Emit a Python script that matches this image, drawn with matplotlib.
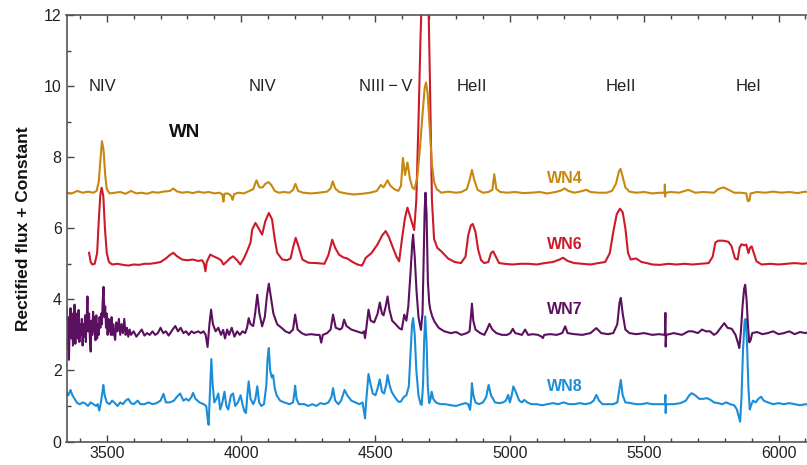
import matplotlib
matplotlib.use("Agg")
import matplotlib.pyplot as plt
from matplotlib.ticker import MultipleLocator

# ---------------- data ----------------
wn4_wl = [3350, 3370, 3390, 3410, 3430, 3450, 3462, 3470, 3476, 3482, 3488, 3494, 3500, 3510, 3530, 3550,
          3570, 3590, 3610, 3630, 3650, 3670, 3690, 3710, 3735, 3748, 3760, 3780, 3800, 3820, 3840, 3860,
          3880, 3900, 3920, 3930, 3934, 3938, 3950, 3962, 3968, 3974, 3990, 4010, 4030, 4045, 4057, 4068,
          4080, 4090, 4102, 4112, 4125, 4140, 4160, 4180, 4193, 4202, 4212, 4230, 4260, 4290, 4320, 4333,
          4341, 4350, 4365, 4390, 4420, 4450, 4480, 4505, 4520, 4530, 4545, 4555, 4570, 4585, 4595, 4602,
          4610, 4619, 4628, 4637, 4645, 4655, 4665, 4675, 4683, 4688, 4694, 4702, 4710, 4718, 4728, 4745,
          4770, 4800, 4820, 4840, 4850, 4859, 4868, 4880, 4900, 4920, 4935, 4942, 4950, 4965, 4990, 5020,
          5050, 5080, 5110, 5140, 5170, 5190, 5204, 5218, 5240, 5260, 5285, 5300, 5330, 5360, 5380, 5395,
          5406, 5412, 5420, 5430, 5445, 5470, 5500, 5530, 5560, 5576, 5577, 5578, 5579, 5600, 5630, 5664,
          5690, 5720, 5760, 5775, 5795, 5815, 5835, 5860, 5880, 5886, 5892, 5896, 5920, 5950, 5980, 6010,
          6040, 6070, 6100, 6115]
wn4_flux = [7.0, 6.98, 7.05, 7.0, 7.03, 7.0, 7.05, 7.3, 7.9, 8.45, 8.2, 7.5, 7.1, 6.98, 7.0, 7.02,
            6.97, 7.05, 6.98, 7.0, 6.97, 7.02, 7.0, 7.03, 7.05, 7.12, 7.04, 7.0, 7.02, 6.99, 7.03, 7.0,
            7.02, 6.98, 7.0, 6.95, 6.75, 6.97, 6.98, 6.92, 6.8, 6.96, 7.0, 6.98, 7.05, 7.1, 7.35, 7.15,
            7.15, 7.25, 7.3, 7.22, 7.05, 7.0, 7.02, 7.0, 7.08, 7.25, 7.05, 7.0, 6.98, 7.0, 7.03, 7.12,
            7.32, 7.12, 7.02, 6.98, 6.95, 6.97, 7.0, 7.05, 7.22, 7.15, 7.35, 7.2, 7.1, 7.05, 7.2, 7.98,
            7.5, 7.85, 7.4, 7.15, 7.1, 7.4, 8.2, 9.2, 9.95, 10.1, 9.8, 8.8, 7.8, 7.3, 7.1, 7.0,
            7.03, 7.0, 7.02, 7.1, 7.35, 7.64, 7.35, 7.08, 7.0, 7.02, 7.08, 7.52, 7.1, 7.02, 7.0, 7.02,
            6.99, 7.0, 7.02, 6.98, 7.02, 7.06, 7.12, 7.05, 7.0, 7.03, 7.08, 7.02, 7.0, 7.0, 7.05, 7.25,
            7.6, 7.67, 7.45, 7.15, 7.03, 7.0, 7.02, 6.98, 7.0, 7.0, 7.23, 6.89, 7.0, 7.02, 7.0, 7.08,
            7.0, 7.02, 7.0, 7.1, 7.15, 7.08, 7.0, 7.0, 6.98, 6.76, 6.78, 6.98, 7.02, 7.0, 7.03, 7.0,
            7.02, 6.99, 7.03, 7.0]

wn6_wl = [3434, 3440, 3446, 3455, 3464, 3470, 3476, 3481, 3487, 3493, 3500, 3508, 3520, 3540, 3560, 3580,
          3600, 3620, 3640, 3660, 3680, 3700, 3720, 3735, 3748, 3760, 3780, 3800, 3820, 3840, 3855, 3862,
          3867, 3872, 3885, 3900, 3915, 3925, 3934, 3945, 3958, 3970, 3985, 3997, 4010, 4022, 4035, 4041,
          4053, 4065, 4078, 4090, 4103, 4115, 4125, 4134, 4153, 4170, 4184, 4193, 4203, 4215, 4228, 4250,
          4280, 4310, 4325, 4339, 4350, 4364, 4380, 4395, 4415, 4433, 4450, 4464, 4485, 4507, 4525, 4538,
          4550, 4563, 4578, 4588, 4600, 4610, 4619, 4630, 4644, 4652, 4660, 4668, 4675, 4686, 4696, 4703,
          4710, 4718, 4730, 4745, 4770, 4795, 4818, 4835, 4845, 4855, 4862, 4872, 4882, 4893, 4905, 4920,
          4930, 4938, 4948, 4960, 4980, 5010, 5040, 5070, 5100, 5130, 5160, 5185, 5198, 5215, 5240, 5270,
          5300, 5330, 5355, 5372, 5385, 5398, 5410, 5420, 5430, 5440, 5450, 5470, 5490, 5510, 5530, 5560,
          5590, 5620, 5650, 5680, 5710, 5740, 5755, 5765, 5776, 5795, 5813, 5825, 5838, 5848, 5855, 5862,
          5872, 5880, 5888, 5894, 5900, 5908, 5918, 5937, 5970, 6000, 6030, 6060, 6090, 6115]
wn6_flux = [5.31, 5.05, 4.98, 5.0, 5.3, 6.2, 6.95, 7.14, 6.9, 6.0, 5.3, 5.05, 4.98, 5.0, 4.97, 4.95,
            4.98, 4.97, 5.0, 5.0, 5.02, 5.05, 5.15, 5.25, 5.31, 5.22, 5.12, 5.1, 5.12, 5.08, 5.1, 5.0,
            4.79, 5.05, 5.26, 5.2, 5.15, 5.1, 4.98, 5.05, 5.15, 5.21, 5.1, 4.98, 5.15, 5.35, 5.6, 5.96,
            6.15, 6.0, 5.82, 6.2, 6.43, 6.25, 5.7, 5.31, 5.12, 5.1, 5.15, 5.45, 5.73, 5.45, 5.12, 5.03,
            5.02, 5.0, 5.25, 5.68, 5.45, 5.26, 5.18, 5.15, 5.05, 4.98, 4.95, 5.17, 5.3, 5.54, 5.8, 5.92,
            5.75, 5.49, 5.2, 5.07, 5.78, 6.3, 6.58, 6.3, 5.95, 6.8, 9.0, 11.5, 13.0, 13.5, 12.8, 10.0,
            6.8, 5.7, 5.45, 5.35, 5.15, 5.05, 5.02, 5.2, 5.8, 6.08, 6.12, 5.9, 5.4, 5.1, 5.02, 5.05,
            5.3, 5.35, 5.2, 5.02, 5.0, 4.98, 5.0, 5.0, 4.98, 5.02, 5.05, 5.12, 5.17, 5.08, 5.02, 5.0,
            4.98, 5.02, 5.05, 5.3, 5.9, 6.4, 6.55, 6.45, 6.0, 5.3, 5.12, 5.15, 5.05, 5.02, 4.98, 4.97,
            5.0, 4.98, 5.0, 4.98, 5.0, 5.02, 5.2, 5.6, 5.65, 5.65, 5.62, 5.5, 5.15, 5.12, 5.45, 5.55,
            5.52, 5.54, 5.3, 5.45, 5.49, 5.3, 5.07, 4.98, 5.0, 4.98, 5.0, 5.02, 5.0, 5.02]

wn7_wl = [3350, 3353, 3356, 3359, 3362, 3365, 3368, 3371, 3374, 3377, 3380, 3383, 3386, 3389, 3392, 3395,
          3398, 3401, 3404, 3407, 3410, 3413, 3416, 3419, 3422, 3425, 3428, 3431, 3434, 3437, 3440, 3443,
          3446, 3449, 3452, 3455, 3458, 3461, 3464, 3467, 3470, 3473, 3476, 3479, 3482, 3485, 3488, 3491,
          3494, 3497, 3500, 3503, 3506, 3509, 3512, 3515, 3518, 3521, 3524, 3527, 3531,
          3535, 3540, 3545, 3550, 3555, 3560, 3565, 3570, 3575, 3580, 3585, 3590, 3600, 3610, 3620, 3630,
          3640, 3650, 3660, 3670, 3680, 3690, 3700, 3710, 3720, 3730, 3745, 3755, 3765, 3775, 3785, 3795,
          3805, 3815, 3825, 3840, 3850, 3860, 3868, 3875, 3882, 3888, 3895, 3905, 3915, 3925, 3933, 3940,
          3948, 3955, 3965, 3975, 3985, 3995, 4005, 4015, 4022, 4028, 4035, 4045, 4052, 4060, 4068, 4078,
          4088, 4096, 4103, 4110, 4120, 4134, 4150, 4165, 4180, 4193, 4201, 4210, 4225, 4240, 4260, 4280,
          4292, 4298, 4304, 4320, 4333, 4342, 4352, 4368, 4376, 4383, 4392, 4410, 4430, 4450, 4457, 4461,
          4466, 4474, 4482, 4495, 4508, 4516, 4524, 4530, 4538, 4545, 4552, 4562, 4575, 4588, 4598, 4607,
          4615, 4622, 4630, 4637, 4640, 4646, 4653, 4660, 4669, 4675, 4679, 4683, 4686, 4690, 4695, 4700,
          4704, 4712, 4719, 4735, 4756, 4780, 4800, 4820, 4840, 4850, 4855, 4859, 4864, 4872, 4890, 4905,
          4915, 4924, 4935, 4950, 4970, 4990, 5002, 5011, 5020, 5035, 5045, 5057, 5068, 5085, 5105, 5118,
          5123, 5128, 5150, 5175, 5195, 5206, 5215, 5240, 5270, 5300, 5322, 5340, 5365, 5385, 5400, 5408,
          5413, 5420, 5430, 5445, 5470, 5500, 5530, 5555, 5577, 5579, 5580, 5582, 5610, 5640, 5665, 5680,
          5700, 5715, 5730, 5745, 5760, 5770, 5780, 5790, 5798, 5810, 5826, 5840, 5850, 5854, 5860, 5866,
          5872, 5876, 5881, 5886, 5891, 5896, 5902, 5920, 5940, 5960, 5980, 6000, 6020, 6040, 6060, 6080,
          6100, 6115]
wn7_flux = [3.8, 2.6, 3.5, 2.3, 3.3, 3.75, 2.9, 3.6, 2.7, 3.1, 3.85, 2.75, 3.4, 3.6, 2.9, 3.7,
            2.8, 3.3, 3.0, 3.45, 2.7, 3.3, 2.95, 3.55, 2.8, 3.4, 4.08, 3.1, 3.6, 2.9, 2.53, 3.4,
            3.0, 3.65, 3.1, 3.5, 2.85, 3.55, 2.9, 3.3, 3.0, 3.5, 3.2, 3.6, 3.3, 4.0, 4.35, 3.5,
            3.8, 3.2, 3.6, 3.0, 3.45, 3.1, 3.4, 3.0, 3.5, 3.0, 3.3, 3.05, 2.86,
            3.35, 3.1, 3.45, 3.0, 3.3, 3.05, 3.45, 3.0, 3.2, 2.95, 3.15, 3.0, 3.1, 2.95, 3.05, 3.15,
            2.98, 3.05, 3.0, 3.1, 3.0, 3.05, 3.2, 3.05, 3.1, 2.98, 3.15, 3.25, 3.1, 3.2, 3.05, 3.1,
            3.0, 3.1, 3.05, 3.1, 3.05, 3.1, 3.0, 2.66, 3.3, 3.71, 3.3, 3.1, 3.2, 3.0, 3.14, 2.9,
            3.15, 3.0, 3.2, 2.95, 3.1, 3.0, 3.1, 3.05, 3.2, 3.47, 3.3, 3.25, 3.6, 4.13, 3.6, 3.24,
            3.5, 4.1, 4.44, 4.1, 3.6, 3.3, 3.2, 3.1, 3.05, 3.15, 3.57, 3.15, 3.05, 3.0, 3.02, 3.0,
            3.0, 2.78, 3.0, 3.05, 3.15, 3.57, 3.2, 3.15, 3.2, 3.43, 3.25, 3.15, 3.1, 3.05, 3.1, 2.91,
            3.2, 3.71, 3.4, 3.35, 3.6, 3.91, 3.6, 3.55, 3.8, 4.08, 3.7, 3.4, 3.3, 3.19, 3.15, 3.57,
            3.4, 3.8, 4.7, 5.6, 5.82, 5.2, 4.2, 3.5, 3.14, 3.6, 5.0, 6.5, 7.0, 6.4, 4.5, 3.9,
            3.71, 3.5, 3.38, 3.2, 3.1, 3.05, 3.08, 3.0, 3.05, 3.1, 3.5, 3.88, 3.4, 3.15, 3.05, 3.0,
            3.15, 3.31, 3.15, 3.05, 3.0, 3.0, 3.05, 3.17, 3.05, 3.02, 3.0, 3.15, 3.0, 3.02, 3.0, 2.95,
            2.91, 3.0, 3.02, 3.0, 3.05, 3.24, 3.05, 3.02, 3.0, 3.05, 3.19, 3.05, 3.02, 3.05, 3.3, 3.9,
            4.04, 3.6, 3.15, 3.05, 3.02, 3.05, 3.0, 3.02, 3.0, 3.62, 2.67, 3.0, 3.05, 3.0, 3.1, 3.1,
            3.05, 3.15, 3.1, 3.1, 3.0, 3.05, 3.15, 3.25, 3.33, 3.2, 3.17, 3.0, 2.75, 2.63, 3.1, 3.8,
            4.3, 4.41, 4.0, 3.3, 2.79, 2.85, 3.05, 3.08, 3.02, 3.05, 3.1, 3.02, 3.05, 3.1, 3.02, 3.08,
            3.05, 3.08]

wn8_wl = [3350, 3357, 3365, 3372, 3380, 3390, 3400, 3410, 3420, 3430, 3440, 3450, 3460, 3466, 3472, 3478,
          3484, 3487, 3492, 3500, 3510, 3520, 3530, 3540, 3550, 3560, 3570, 3580, 3590, 3600, 3615, 3625,
          3640, 3655, 3670, 3685, 3700, 3711, 3720, 3735, 3750, 3760, 3773, 3785, 3795, 3805, 3815, 3821,
          3830, 3845, 3860, 3870, 3876, 3879, 3884, 3889, 3894, 3900, 3908, 3915, 3922, 3930, 3938, 3945,
          3952, 3962, 3970, 3978, 3988, 3998, 4005, 4012, 4018, 4023, 4028, 4035, 4045, 4053, 4060, 4067,
          4075, 4085, 4094, 4098, 4103, 4108, 4114, 4119, 4125, 4132, 4145, 4160, 4180, 4193, 4197, 4201,
          4206, 4215, 4235, 4250, 4265, 4280, 4295, 4310, 4325, 4336, 4342, 4350, 4362, 4372, 4385, 4395,
          4410, 4425, 4440, 4452, 4458, 4461, 4466, 4474, 4482, 4490, 4500, 4508, 4516, 4524, 4532, 4540,
          4545, 4552, 4560, 4572, 4585, 4594, 4605, 4615, 4624, 4630, 4636, 4640, 4646, 4652, 4660, 4668,
          4672, 4677, 4681, 4685, 4690, 4695, 4700, 4705, 4709, 4715, 4725, 4740, 4760, 4780, 4800, 4820,
          4835, 4845, 4852, 4856, 4859, 4864, 4872, 4885, 4900, 4912, 4921, 4930, 4945, 4960, 4975, 4985,
          4994, 5000, 5007, 5013, 5022, 5035, 5045, 5054, 5065, 5080, 5100, 5120, 5140, 5160, 5180, 5200,
          5220, 5240, 5260, 5280, 5300, 5312, 5322, 5332, 5345, 5365, 5385, 5400, 5406, 5413, 5420, 5430,
          5450, 5470, 5490, 5510, 5530, 5555, 5577, 5579, 5580, 5582, 5610, 5635, 5655, 5668, 5677, 5690,
          5705, 5720, 5733, 5745, 5760, 5775, 5790, 5805, 5820, 5835, 5845, 5852, 5857, 5862, 5868, 5874,
          5878, 5883, 5888, 5893, 5897, 5905, 5915, 5925, 5935, 5945, 5960, 5980, 6000, 6020, 6040, 6060,
          6080, 6100, 6115]
wn8_flux = [1.4, 1.3, 1.45, 1.3, 1.2, 1.08, 1.05, 1.1, 1.07, 1.0, 1.1, 1.05, 1.0, 1.05, 0.87, 1.1,
            1.4, 1.59, 1.3, 1.1, 1.05, 1.15, 1.08, 1.0, 1.1, 1.05, 1.15, 1.2, 1.08, 1.05, 1.15, 1.05,
            1.05, 1.1, 1.05, 1.08, 1.15, 1.34, 1.1, 1.1, 1.15, 1.25, 1.35, 1.15, 1.2, 1.15, 1.25, 1.37,
            1.2, 1.1, 1.05, 1.0, 0.6, 0.47, 1.4, 2.32, 1.6, 1.1, 1.2, 1.35, 0.9, 1.1, 1.4, 1.0,
            0.9, 1.3, 1.35, 1.0, 1.1, 1.3, 1.05, 0.85, 0.8, 1.3, 1.69, 1.2, 1.05, 1.2, 1.55, 1.1,
            1.0, 1.05, 1.6, 2.3, 2.63, 2.0, 1.8, 1.87, 1.5, 1.3, 1.15, 1.1, 1.05, 1.1, 1.3, 1.57,
            1.2, 1.05, 1.05, 1.0, 1.05, 1.0, 1.08, 1.05, 1.1, 1.25, 1.5, 1.15, 1.05, 1.15, 1.45, 1.3,
            1.15, 1.1, 1.05, 1.1, 0.8, 0.65, 1.2, 1.9, 1.6, 1.35, 1.3, 1.5, 1.75, 1.4, 1.35, 1.6,
            1.87, 1.6, 1.4, 1.25, 1.12, 1.12, 1.25, 1.3, 1.55, 2.4, 3.3, 3.47, 3.0, 2.0, 1.3, 1.05,
            1.03, 1.6, 2.8, 3.52, 2.8, 1.5, 1.08, 1.2, 1.4, 1.2, 1.1, 1.05, 1.05, 1.02, 1.0, 1.05,
            1.08, 1.05, 0.89, 1.2, 1.64, 1.3, 1.1, 1.05, 1.1, 1.25, 1.59, 1.3, 1.1, 1.08, 1.1, 1.15,
            1.31, 1.1, 1.3, 1.55, 1.4, 1.15, 1.1, 1.17, 1.1, 1.05, 1.05, 1.02, 1.05, 1.08, 1.05, 1.1,
            1.05, 1.05, 1.08, 1.05, 1.08, 1.15, 1.31, 1.15, 1.05, 1.05, 1.05, 1.1, 1.4, 1.73, 1.3, 1.1,
            1.08, 1.05, 1.05, 1.08, 1.05, 1.05, 1.05, 1.31, 0.8, 1.05, 1.05, 1.08, 1.15, 1.3, 1.36, 1.3,
            1.2, 1.2, 1.22, 1.18, 1.1, 1.08, 1.05, 1.1, 1.05, 1.02, 0.9, 0.7, 0.56, 1.2, 2.6, 3.4,
            3.45, 2.7, 1.5, 0.9, 1.0, 1.15, 1.1, 1.2, 1.26, 1.15, 1.1, 1.05, 1.08, 1.05, 1.08, 1.05,
            1.02, 1.05, 1.03]

line_labels = ["NIV", "NIV", "NIII\u2009\u2212\u2009V", "HeII", "HeII", "HeI"]
line_label_x = [3484, 4080, 4540, 4860, 5415, 5890]
series_names = ["WN4", "WN6", "WN7", "WN8"]
series_label_y = [7.40, 5.54, 3.71, 1.54]

# ---------------- figure ----------------
plt.rcParams['font.family'] = ['Liberation Sans', 'DejaVu Sans']
fig = plt.figure(figsize=(8.07, 4.65), dpi=100)
ax = fig.add_axes([66.5 / 807, 23.5 / 465, 1 - 66.5 / 807 + 0.002, (441.5 - 15) / 465])

colors = ["#C8870F", "#CC1A2A", "#5C1060", "#1B8DD8"]
series = [(wn4_wl, wn4_flux), (wn6_wl, wn6_flux), (wn7_wl, wn7_flux), (wn8_wl, wn8_flux)]
for idx in [3, 2, 1, 0]:
    wl, fl = series[idx]
    ax.plot(wl, fl, color=colors[idx], lw=1.5, solid_joinstyle='round', zorder=2 + (3 - idx) * 0.1)

ax.set_xlim(3350, 6112)
ax.set_ylim(0, 12)

ax.xaxis.set_major_locator(MultipleLocator(500))
ax.xaxis.set_minor_locator(MultipleLocator(100))
ax.yaxis.set_major_locator(MultipleLocator(2))
ax.yaxis.set_minor_locator(MultipleLocator(1))
ax.tick_params(which='both', direction='in', top=True, right=False, colors='#444444',
               labelcolor='#222222', labelsize=11.5)
ax.tick_params(which='major', length=5, width=1)
ax.tick_params(which='minor', length=3, width=1)
for side in ['left', 'bottom', 'top']:
    ax.spines[side].set_color('#555555')
    ax.spines[side].set_linewidth(1.2)
ax.spines['right'].set_visible(False)

ax.set_ylabel("Rectified flux + Constant", fontsize=12.5, fontweight='bold', color='#111111', labelpad=9)

for lab, x in zip(line_labels, line_label_x):
    ax.text(x, 10.0, lab, ha='center', va='center', fontsize=12, color='#222222')

ax.text(3790, 8.68, "WN", ha='center', va='center', fontsize=13.5, fontweight='bold', color='#111111')

for name, y, c in zip(series_names, series_label_y, colors):
    ax.text(5203, y, name, ha='center', va='center', fontsize=11.5, fontweight='bold', color=c)

fig.savefig("out.png", dpi=100)
